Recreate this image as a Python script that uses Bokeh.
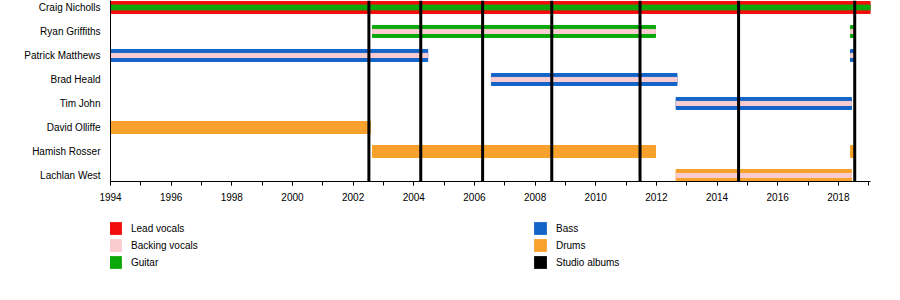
from bokeh.plotting import figure
from bokeh.layouts import column
from bokeh.models import (Range1d, FixedTicker, SingleIntervalTicker, Span,
                          Legend, LegendItem, ColumnDataSource)
from bokeh.embed import file_html
from bokeh.resources import INLINE

# ---------------- data ----------------
members = ["Craig Nicholls", "Ryan Griffiths", "Patrick Matthews", "Brad Heald",
           "Tim John", "David Olliffe", "Hamish Rosser", "Lachlan West"]

bar_member = ["Craig Nicholls", "Ryan Griffiths", "Ryan Griffiths",
              "Patrick Matthews", "Patrick Matthews", "Brad Heald", "Tim John",
              "David Olliffe", "Hamish Rosser", "Hamish Rosser", "Lachlan West"]
bar_start = [1994.0, 2002.64, 2018.40, 1994.0, 2018.40, 2006.56, 2012.65,
             1994.0, 2002.64, 2018.40, 2012.65]
bar_end = [2019.06, 2011.97, 2018.50, 2004.46, 2018.50, 2012.68, 2018.43,
           2002.57, 2011.97, 2018.50, 2018.43]
bar_role = ["Lead vocals", "Guitar", "Guitar", "Bass", "Bass", "Bass", "Bass",
            "Drums", "Drums", "Drums", "Drums"]
stripe_role = ["Guitar", "Backing vocals", "Backing vocals", "Backing vocals",
               "Backing vocals", "Backing vocals", "Backing vocals",
               None, None, None, "Backing vocals"]

albums = [2002.52, 2004.23, 2006.27, 2008.55, 2011.46, 2014.71, 2018.54]

roles = ["Lead vocals", "Backing vocals", "Guitar", "Bass", "Drums", "Studio albums"]
role_colors = {"Lead vocals": "#f20d0d", "Backing vocals": "#f9ccd0",
               "Guitar": "#0aa80a", "Bass": "#1464c8", "Drums": "#f8a12c",
               "Studio albums": "#000000"}

x_start, x_end = 1994.0, 2019.06
FONT = "Liberation Sans"
NAN = float("nan")

# ---------------- main figure ----------------
n = len(members)
ypos = {m: n - 1 - i for i, m in enumerate(members)}

p = figure(width=884, height=211, output_backend="svg", toolbar_location=None,
           x_range=Range1d(x_start, x_end), y_range=Range1d(-0.25, n - 1 + 0.29),
           min_border_left=110, min_border_right=14, min_border_top=0,
           min_border_bottom=30)
p.outline_line_color = None
p.xgrid.visible = False
p.ygrid.visible = False
p.background_fill_color = "white"
p.border_fill_color = "white"

main = ColumnDataSource(dict(
    y=[ypos[m] for m in bar_member], left=bar_start, right=bar_end,
    color=[role_colors[r] for r in bar_role],
    h=[0.5] * len(bar_member)))
p.hbar(y="y", left="left", right="right", height="h", color="color",
       source=main)

idx = [i for i, r in enumerate(stripe_role) if r is not None]
stripe = ColumnDataSource(dict(
    y=[ypos[bar_member[i]] for i in idx],
    left=[bar_start[i] for i in idx], right=[bar_end[i] for i in idx],
    color=[role_colors[stripe_role[i]] for i in idx],
    h=[0.2 if stripe_role[i] == "Guitar" else 0.17 for i in idx]))
p.hbar(y="y", left="left", right="right", height="h", color="color",
       source=stripe)

for yr in albums:
    p.add_layout(Span(location=yr, dimension="height",
                      line_color=role_colors["Studio albums"], line_width=3))

# axes
p.xaxis.ticker = SingleIntervalTicker(interval=2, num_minor_ticks=2)
p.xaxis.axis_line_color = "black"
p.xaxis.major_tick_line_color = "black"
p.xaxis.minor_tick_line_color = "black"
p.xaxis.major_tick_in = 0
p.xaxis.major_tick_out = 4
p.xaxis.minor_tick_in = 0
p.xaxis.minor_tick_out = 4
p.xaxis.major_label_standoff = 7
p.xaxis.major_label_text_font = FONT
p.xaxis.major_label_text_font_size = "10px"
p.xaxis.major_label_text_color = "black"

p.yaxis.ticker = FixedTicker(ticks=list(range(n)))
p.yaxis.major_label_overrides = {ypos[m]: m for m in members}
p.yaxis.axis_line_color = "black"
p.yaxis.major_tick_line_color = None
p.yaxis.minor_tick_line_color = None
p.yaxis.major_tick_out = 0
p.yaxis.major_tick_in = 0
p.yaxis.major_label_standoff = 10
p.yaxis.major_label_text_font = FONT
p.yaxis.major_label_text_font_size = "10px"
p.yaxis.major_label_text_color = "black"

# ---------------- legend figure ----------------
q = figure(width=884, height=73, output_backend="svg", toolbar_location=None,
           x_range=Range1d(0, 1), y_range=Range1d(0, 1),
           x_axis_location=None, y_axis_location=None,
           min_border_left=0, min_border_right=0, min_border_top=0,
           min_border_bottom=0)
q.outline_line_color = None
q.xgrid.visible = False
q.ygrid.visible = False
q.background_fill_color = "white"
q.border_fill_color = "white"

items = []
for r in roles:
    rr = q.quad(left=[NAN], right=[NAN], top=[NAN], bottom=[NAN],
                fill_color=role_colors[r], line_color=None)
    items.append(LegendItem(label=r, renderers=[rr]))
legend = Legend(items=items, nrows=3, ncols=2, location=(-3, 14),
                glyph_width=16, glyph_height=16, label_height=16,
                label_standoff=8, label_width=400, spacing=1, padding=0,
                margin=0, border_line_color=None, background_fill_alpha=0,
                label_text_font=FONT, label_text_font_size="10px",
                label_text_color="black")
q.add_layout(legend, "center")

layout = column(p, q, spacing=0)
open("out.html", "w").write(file_html(layout, INLINE))
